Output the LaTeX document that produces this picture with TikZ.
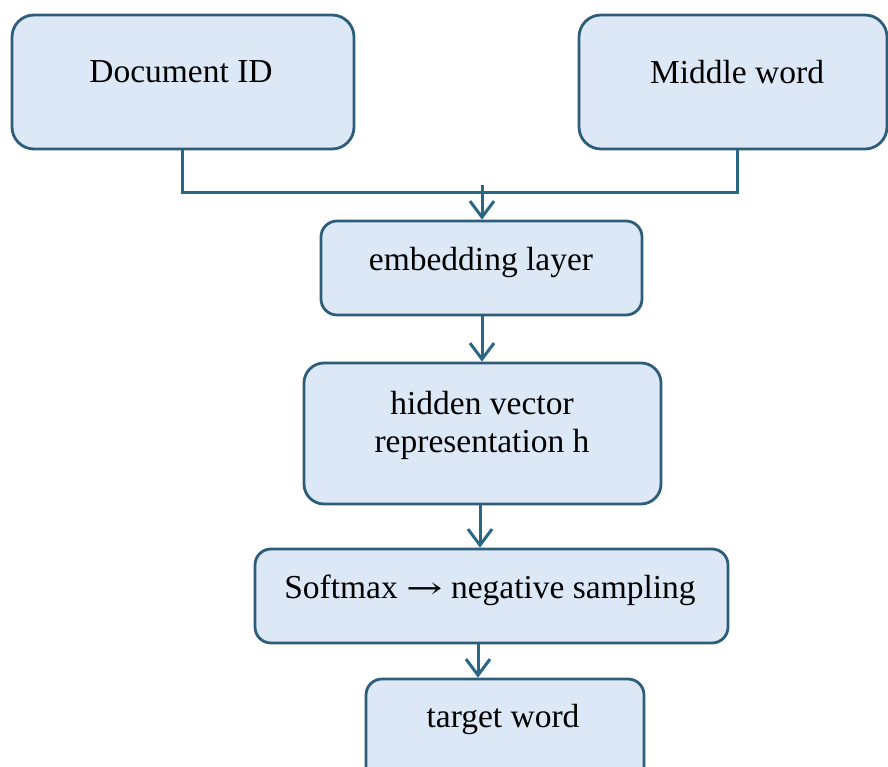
\documentclass[tikz,border=0pt]{standalone}
\usepackage{fontspec}
\setmainfont{Liberation Serif}
\newfontfamily\arrowfont{DejaVu Serif}
\usetikzlibrary{arrows.meta}
\definecolor{boxfill}{HTML}{DCE8F5}
\definecolor{boxline}{HTML}{2D5D78}
\definecolor{linkc}{HTML}{2A6685}
\tikzset{
  box/.style={draw=boxline, fill=boxfill, line width=2.8pt, inner sep=0pt},
  txt/.style={font=\fontsize{33.5}{38}\selectfont, text=black, align=center, inner sep=0pt},
  link/.style={draw=linkc, line width=3pt},
  arr/.style={link, -{Straight Barb[length=16pt,width=24pt,line width=3pt]}}
}
\begin{document}
\begin{tikzpicture}[x=1pt,y=-1pt]
\clip (0,0) rectangle (888,767);
\useasboundingbox (0,0) rectangle (888,767);
% boxes
\node[box, rounded corners=22pt, minimum width=342pt, minimum height=134pt] (doc) at (183,82) {};
\node[box, rounded corners=22pt, minimum width=308pt, minimum height=134pt] (mid) at (733,82) {};
\node[box, rounded corners=16pt, minimum width=321pt, minimum height=94pt] (emb) at (481.5,268) {};
\node[box, rounded corners=20pt, minimum width=357pt, minimum height=141pt] (hid) at (482.5,433.5) {};
\node[box, rounded corners=16pt, minimum width=473pt, minimum height=94pt] (soft) at (491.5,596) {};
\node[box, rounded corners=16pt, minimum width=278pt, minimum height=120pt] (tgt) at (505,739) {};
% texts
\node[txt] (tdoc) at (181,72) {Document ID};
\node[txt] (tmid) at (737,72) {Middle word};
\node[txt] (temb) at (481,262) {embedding layer};
\node[txt] (thid) at (482,425) {hidden vector\\representation h};
\node[txt] (tsoft) at (490,590) {Softmax {\arrowfont\fontsize{30}{36}\selectfont\scalebox{1.45}[1]{→}} negative sampling};
\node[txt] (ttgt) at (503,719) {target word};
% connectors
\coordinate (j1) at (182,193);
\coordinate (j2) at (737,193);
\coordinate (jtop) at (482,185);
\draw[link] (doc.south -| j1) -- (j1) -- (j2) -- (mid.south -| j2);
\draw[arr] (jtop) -- (emb.north -| jtop);
\draw[arr] (emb.south -| jtop) -- (hid.north -| jtop);
\coordinate (c3) at (480,0);
\draw[arr] (hid.south -| c3) -- (soft.north -| c3);
\coordinate (c4) at (478,0);
\draw[arr] (soft.south -| c4) -- (tgt.north -| c4);
\end{tikzpicture}
\end{document}
